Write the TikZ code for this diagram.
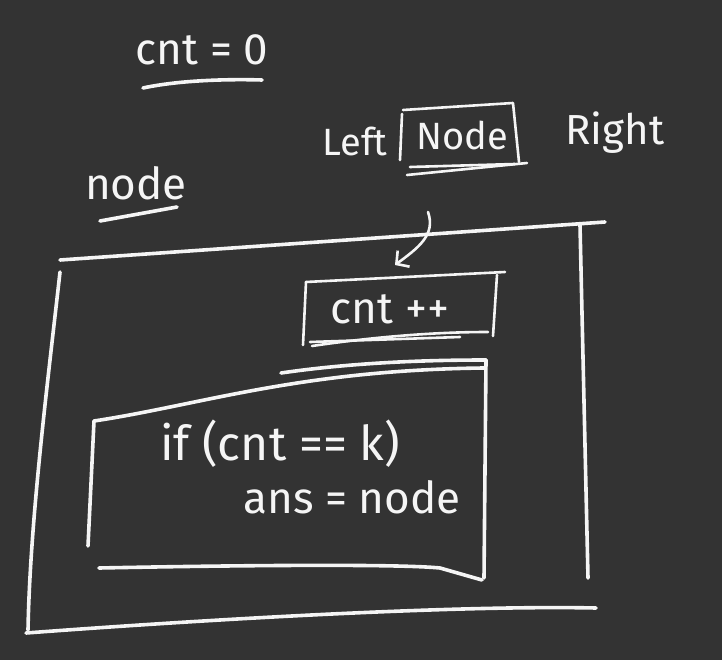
\documentclass[tikz,border=0pt]{standalone}
\usepackage{fontspec}
\setmainfont{Fira Sans}
\usepackage{tikz}
\usetikzlibrary{arrows.meta}
\definecolor{board}{HTML}{333333}
\definecolor{chalk}{HTML}{F5F5F5}
\tikzset{
    % pen strokes
    stroke/.style={draw=chalk, line width=3.6pt, line cap=round, line join=round},
    thinstroke/.style={stroke, line width=2.6pt},
    pointer/.style={thinstroke, -{Straight Barb[length=9pt, width=20pt, line width=2.6pt]}},
    % written words
    handtext/.style={text=chalk, inner sep=0pt, anchor=base},
    big/.style={handtext, font=\fontsize{44}{44}\selectfont},
    mid/.style={handtext, font=\fontsize{38}{38}\selectfont}
}

\begin{document}
\begin{tikzpicture}[x=1pt, y=-1pt]
    \fill[board] (0,0) rectangle (722,660);
    \useasboundingbox (0,0) rectangle (722,660);

    % counter at the top
    \node[big] (init) at (202,65) {cnt = 0};
    \draw[stroke] (143,88) .. controls (180,80) and (230,79) .. (262,80);

    % traversal order
    \node[mid] (left) at (355,156) {Left};
    \draw[thinstroke] (402,114) -- (400,160);
    \node[mid] (mid) at (462,150) {Node};
    \node[mid, font=\fontsize{42}{42}\selectfont] (right) at (615,145) {Right};
    \draw[thinstroke] (403,110) -- (513,103) -- (519,162);
    \draw[thinstroke] (410,167) -- (515,164);
    \draw[thinstroke] (407,175) -- (527,163);

    % current node
    \node[big] (cur) at (136,200) {node};
    \draw[stroke] (100,221) -- (177,207);

    % outer frame (function body)
    \draw[stroke] (60,260) -- (605,222);
    \draw[stroke] (580,225) -- (588,578);
    \draw[stroke] (60,272) .. controls (48,380) and (30,520) .. (28,630);
    \draw[stroke] (26,633) .. controls (200,620) and (450,605) .. (596,608);

    % increment step
    \node[big] (inc) at (390,323) {cnt ++};
    \draw[thinstroke] (306,282) -- (505,272);
    \draw[thinstroke] (306,282) -- (303,345);
    \draw[thinstroke] (497,275) -- (493,336);
    \draw[thinstroke] (310,342) -- (460,337);
    \draw[thinstroke] (312,346) .. controls (380,336) and (440,332) .. (488,332);

    % arrow into the increment
    \coordinate (from) at (428,212);
    \coordinate (to) at (395,265);
    \draw[pointer] (from) .. controls (436,235) and (418,248) .. (to);

    % check block
    \draw[stroke] (281,373) .. controls (350,363) and (420,360) .. (486,360);
    \draw[stroke] (486,360) -- (484,578);
    \draw[stroke] (94,421) .. controls (200,405) and (300,370) .. (484,368);
    \draw[stroke] (94,421) -- (88,546);
    \draw[stroke] (99,568) .. controls (250,565) and (400,564) .. (440,568) -- (482,580);
    \node[big, font=\fontsize{48}{48}\selectfont] (cond) at (280,460) {if (cnt == k)};
    \node[big] (ans) at (352,513) {ans = node};
\end{tikzpicture}
\end{document}
